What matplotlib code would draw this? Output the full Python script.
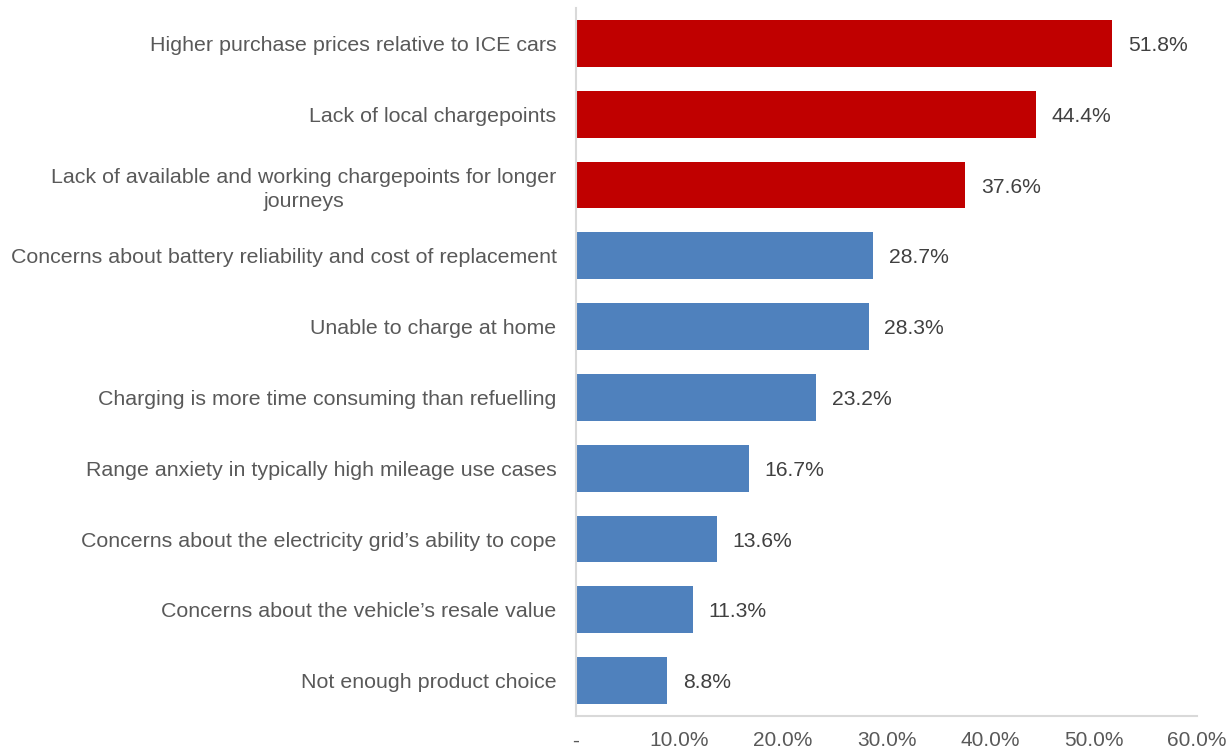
import matplotlib.pyplot as plt
from matplotlib.ticker import FuncFormatter

plt.rcParams['font.family'] = ['Liberation Sans', 'DejaVu Sans']

barriers = [
    'Higher purchase prices relative to ICE cars',
    'Lack of local chargepoints',
    'Lack of available and working chargepoints for longer\njourneys',
    'Concerns about battery reliability and cost of replacement',
    'Unable to charge at home',
    'Charging is more time consuming than refuelling',
    'Range anxiety in typically high mileage use cases',
    'Concerns about the electricity grid\u2019s ability to cope',
    'Concerns about the vehicle\u2019s resale value',
    'Not enough product choice',
]
shares = [51.8, 44.4, 37.6, 28.7, 28.3, 23.2, 16.7, 13.6, 11.3, 8.8]
top_three = 3

RED = '#C00000'
BLUE = '#4F81BD'

fig = plt.figure(figsize=(12.29, 7.51), dpi=100)
ax = fig.add_axes([0.4687, 0.0466, 0.5053, 0.9427])

colors = [RED if i < top_three else BLUE for i in range(len(shares))]
pos = list(range(len(shares)))
bars = ax.barh(pos, shares, height=0.66, color=colors)

# value labels just past the end of each bar
for b, v in zip(bars, shares):
    ax.text(b.get_width() + 1.5, b.get_y() + b.get_height() / 2, f'{v:.1f}%',
            va='center_baseline', ha='left', fontsize=15.2, color='#404040')

ax.set_ylim(len(shares) - 0.5, -0.5)
ax.set_yticks(pos)
ax.set_yticklabels(barriers, fontsize=15.4, color='#595959',
                   multialignment='center', linespacing=1.3)
ax.set_xlim(0, 60)
ax.set_xticks([0, 10, 20, 30, 40, 50, 60])
ax.xaxis.set_major_formatter(FuncFormatter(lambda x, _: '-' if x == 0 else f'{x:.1f}%'))
ax.tick_params(axis='x', length=0, pad=11, labelsize=15, labelcolor='#595959')
ax.tick_params(axis='y', length=0, pad=14)

for side in ['top', 'right']:
    ax.spines[side].set_visible(False)
for side in ['left', 'bottom']:
    ax.spines[side].set_color('#D9D9D9')
    ax.spines[side].set_linewidth(1.5)

fig.savefig('out.png', dpi=100)
